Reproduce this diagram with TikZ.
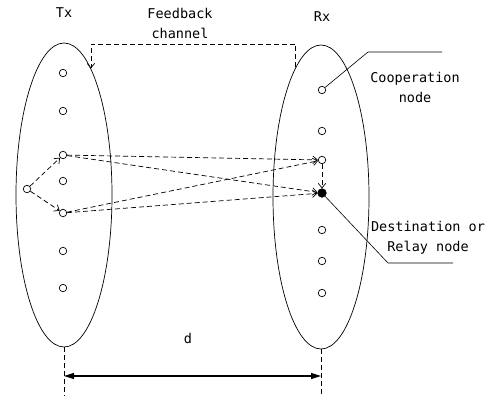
\documentclass[tikz,border=0pt]{standalone}
\usepackage{fontspec}
\setmainfont{DejaVu Sans Mono}
\usetikzlibrary{arrows.meta,shapes.geometric}
\tikzset{
  no/.style={circle,draw,inner sep=0pt,minimum size=7.5pt},
  dest/.style={no,fill=black,minimum size=8.5pt},
  grupo/.style={ellipse,draw,inner sep=0pt,minimum width=96pt,minimum height=304pt},
  seta/.style={dashed,dash pattern=on 5pt off 3pt,-{Straight Barb[length=4.5pt,width=7.5pt]}},
  rotulo/.style={font=\fontsize{13.5}{20}\selectfont,align=center,inner sep=0pt}
}
\begin{document}
\begin{tikzpicture}[x=1pt,y=-1pt,line width=0.7pt]
    \useasboundingbox (0,0) rectangle (489,396);
    % Grupos Tx e Rx
    \node[grupo] (tx) at (64,195) {};
    \node[grupo] (rx) at (321,197) {};
    \node[rotulo] (ltx) at (64,13) {Tx};
    \node[rotulo] (lrx) at (322,17) {Rx};
    % Nos do transmissor
    \foreach \i/\y in {1/73,2/111,3/155,4/181,5/213,6/251,7/288}
        \node[no] (t\i) at (63,\y) {};
    \node[no] (s) at (27,189) {};
    % Nos do receptor
    \foreach \i/\y in {1/90,2/131,3/160,5/230,6/261,7/293}
        \node[no] (r\i) at (322,\y) {};
    \node[dest] (rd) at (322,193) {};
    % Enlaces
    \draw[seta] (s) -- (t3);
    \draw[seta] (s) -- (t5);
    \draw[seta] (t3) -- (r3);
    \draw[seta] (t3) -- (rd);
    \draw[seta] (t5) -- (r3);
    \draw[seta] (t5) -- (rd);
    \draw[seta] (r3) -- (rd);
    % Canal de realimentacao
    \coordinate (topo) at (0,44);
    \draw[seta] (rx.101) -- (rx.101 |- topo) -- (tx.78 |- topo) -- (tx.78);
    \node[rotulo] (lfb) at (180,23) {Feedback\\channel};
    % Legendas
    \coordinate (c1) at (368,52);
    \coordinate (c2) at (442,52);
    \draw[line width=0.6pt] (r1) -- (c1) -- (c2);
    \node[rotulo] (lcoop) at (415,87) {Cooperation\\node};
    \coordinate (d1) at (388,263);
    \coordinate (d2) at (453,263);
    \draw[line width=0.6pt] (rd) -- (d1) -- (d2);
    \node[rotulo] (ldest) at (428,238) {Destination or\\Relay node};
    % Distancia d
    \coordinate (base) at (0,396);
    \coordinate (cota) at (0,376);
    \draw[dashed,dash pattern=on 5pt off 3pt] (tx.south) -- (tx.south |- base);
    \draw[dashed,dash pattern=on 5pt off 3pt] (rx.south) -- (rx.south |- base);
    \draw[line width=1.2pt,{Triangle[length=10pt,width=6pt]}-{Triangle[length=10pt,width=6pt]}]
        (tx.south |- cota) -- (rx.south |- cota);
    \node[rotulo] (ld) at (188,338) {d};
\end{tikzpicture}
\end{document}
